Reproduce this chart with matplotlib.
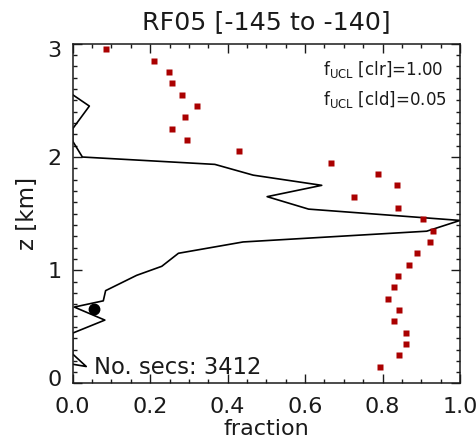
import matplotlib
matplotlib.use('Agg')
import matplotlib.pyplot as plt
from matplotlib.ticker import MultipleLocator
from matplotlib.transforms import ScaledTranslation

# red squares: fraction per height bin
z_sq = [2.95, 2.85, 2.75, 2.65, 2.55, 2.45, 2.35, 2.25, 2.15, 2.05,
        1.95, 1.85, 1.75, 1.65, 1.55, 1.45, 1.35, 1.25, 1.15, 1.05,
        0.95, 0.85, 0.75, 0.65, 0.55, 0.45, 0.35, 0.25, 0.15]
f_sq = [0.086, 0.211, 0.249, 0.257, 0.283, 0.320, 0.290, 0.257, 0.296, 0.429,
        0.666, 0.787, 0.837, 0.725, 0.839, 0.904, 0.931, 0.923, 0.890, 0.867,
        0.841, 0.830, 0.815, 0.843, 0.830, 0.861, 0.861, 0.842, 0.793]

# black profile line
line_f = [0.0, 0.043, 0.0, 0.0, 0.025, 0.367, 0.466, 0.643, 0.502, 0.609, 1.0, 0.914,
          0.44, 0.273, 0.23, 0.165, 0.085, 0.079, 0.004, 0.083, 0.0, 0.0, 0.035, 0.0]
line_z = [2.55, 2.45, 2.25, 2.14, 2.0, 1.935, 1.84, 1.75, 1.65, 1.54, 1.44, 1.345,
          1.25, 1.15, 1.035, 0.955, 0.82, 0.73, 0.675, 0.56, 0.445, 0.26, 0.15, 0.17]

dot_f = [0.056]
dot_z = [0.66]

title = 'RF05 [-145 to -140]'
n_secs = 3412
f_clr = 1.00
f_cld = 0.05

plt.rcParams['mathtext.fontset'] = 'dejavusans'
txtcol = '#1a1a1a'

fig = plt.figure(figsize=(4.77, 4.41), dpi=100)
ax = fig.add_axes([0.1524, 0.1304, 0.812, 0.7703])

ax.plot(line_f, line_z, color='black', lw=1.2, zorder=2)
ax.plot(f_sq, z_sq, ls='none', marker='s', ms=3.8, color='#aa0000', mec='none', zorder=3)
ax.plot(dot_f, dot_z, ls='none', marker='o', ms=7.5, color='black', zorder=4)

ax.set_xlim(0, 1)
ax.set_ylim(0, 3)
ax.set_xticks([0.0, 0.2, 0.4, 0.6, 0.8, 1.0])
ax.set_xticklabels(['0.0', '0.2', '0.4', '0.6', '0.8', '1.0'])
ax.set_yticks([0, 1, 2, 3])
ax.xaxis.set_minor_locator(MultipleLocator(0.05))
ax.yaxis.set_minor_locator(MultipleLocator(0.1))
ax.tick_params(which='both', direction='in', top=True, right=True, colors=txtcol,
               labelsize=16, width=1.0)
ax.tick_params(which='major', length=6.5)
ax.tick_params(which='minor', length=3.2)
ax.tick_params(axis='x', pad=10)
ax.tick_params(axis='y', pad=8)
for s in ax.spines.values():
    s.set_linewidth(1.1)
    s.set_color(txtcol)

# keep the end labels inside the axis range
yt = ax.yaxis.get_major_ticks()
yt[0].label1.set_transform(yt[0].label1.get_transform() + ScaledTranslation(0, 0.05, fig.dpi_scale_trans))
yt[-1].label1.set_transform(yt[-1].label1.get_transform() + ScaledTranslation(0, -0.05, fig.dpi_scale_trans))

ax.set_title(title, fontsize=18.3, pad=10.5, color=txtcol)
ax.set_xlabel('fraction', fontsize=16, color=txtcol, va='baseline')
ax.xaxis.set_label_coords(0.5, -0.1516)
ax.set_ylabel('z [km]', fontsize=16.5, color=txtcol)
ax.yaxis.set_label_coords(-0.088, 0.5)

ax.text(0.055, 0.086, 'No. secs: %d' % n_secs, fontsize=16.3, color=txtcol, va='baseline')
ax.text(0.646, 2.726, r'f$_{\rm UCL}$ [clr]=%.2f' % f_clr, fontsize=12, color=txtcol, va='baseline')
ax.text(0.646, 2.46, r'f$_{\rm UCL}$ [cld]=%.2f' % f_cld, fontsize=12, color=txtcol, va='baseline')

plt.savefig('out.png', dpi=100)
